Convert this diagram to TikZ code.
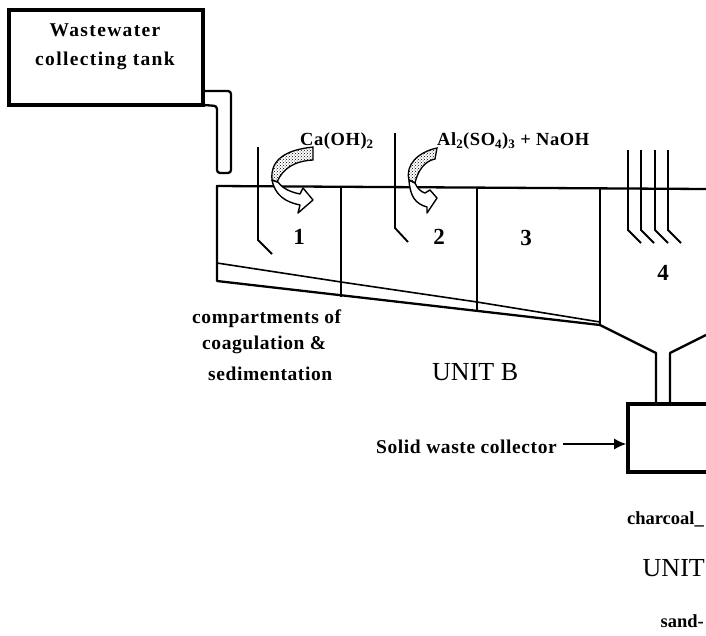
\documentclass[tikz,border=0pt]{standalone}
\usepackage{fontspec}
\setmainfont{Liberation Serif}
\usetikzlibrary{positioning,patterns,arrows.meta}
\tikzset{vessel/.style={draw=black,line width=3.6pt,inner sep=0pt}}
\tikzset{wall/.style={draw=black,line width=2.3pt,line join=round}}
\tikzset{thin wall/.style={draw=black,line width=1.6pt,line join=round}}
\tikzset{baffle/.style={draw=black,line width=1.9pt}}
\tikzset{tag/.style={font=\fontsize{19.5}{29}\selectfont\bfseries\addfontfeature{LetterSpace=3},inner sep=0pt}}
\tikzset{chem/.style={font=\fontsize{18.5}{22}\selectfont\bfseries\addfontfeature{LetterSpace=3},inner sep=0pt}}
\tikzset{edge tag/.style={font=\fontsize{18.5}{22}\selectfont\bfseries,inner sep=0pt}}
\tikzset{number/.style={font=\fontsize{23}{26}\selectfont\bfseries,inner sep=0pt}}
\tikzset{unit/.style={font=\fontsize{26}{30}\selectfont,inner sep=0pt}}
\tikzset{ribbon/.style={draw=black,line width=1.3pt,pattern=crosshatch dots,pattern color=black}}
\tikzset{swirl/.style={draw=black,line width=1.4pt,fill=white,line join=round}}

\begin{document}
\begin{tikzpicture}[x=1pt,y=-1pt]
\useasboundingbox (0,0) rectangle (706,635);
\clip (0,0) rectangle (706,635);

\node[vessel,minimum width=194pt,minimum height=95pt] (tank) at (106,57.5) {};
\node[tag,align=center] (tanklabel) at (105,47) {\addfontfeature{LetterSpace=7}Wastewater\\\addfontfeature{LetterSpace=7}collecting tank};

%Inlet pipe
\draw[wall,rounded corners=3pt] (204,91) -- (231,91) -- (231,173) -- (217,173) -- (217,106) -- (204,105);

%Basin
\draw[wall] (600,325) -- (217,281) -- (217,186) -- (706,189);
\draw[thin wall] (217,263) -- (341,282) -- (477,302) -- (600,322);
\draw[wall] (341,186) -- (341,297);
\draw[wall] (477,187) -- (477,310);
\draw[wall] (600,188) -- (600,325);
\draw[wall] (600,325) -- (656,353) -- (656,404);
\draw[wall] (706,335) -- (670,353) -- (670,404);

%Baffles
\draw[baffle] (258,147) -- (258,240) -- (272,254);
\draw[baffle] (395,133) -- (395,228) -- (408,242);
\foreach \x in {628,641,655,668}
  \draw[baffle] (\x,150) -- (\x,230) -- (\x+13,243);

%Dosing arrows
\draw[swirl] (272,180) .. controls (275,195) and (285,202) .. (300,205) -- (298,213) -- (313,200) -- (303,188) -- (300,194) .. controls (290,192) and (282,188) .. (278,182) -- cycle;
\draw[ribbon] (313,147) -- (313,160) .. controls (295,161) and (283,168) .. (277,182) -- (272,180) .. controls (270,160) and (285,150) .. (313,147) -- cycle;
\draw[swirl] (409,180) .. controls (410,197) and (416,204) .. (427,207) -- (427,213) -- (437,198) -- (430,190) -- (425,193) .. controls (421,192) and (417,188) .. (415,183) -- cycle;
\draw[ribbon] (437,148) -- (435,159) .. controls (425,161) and (418,170) .. (415,183) -- (409,180) .. controls (405,165) and (418,152) .. (437,148) -- cycle;

\node[chem,anchor=west] (lime) at (300,141) {Ca(OH)\textsubscript{2}};
\node[chem,anchor=west] (alum) at (437,141) {Al\textsubscript{2}(SO\textsubscript{4})\textsubscript{3} + NaOH};

\node[number] (one) at (299,237) {1};
\node[number] (two) at (439,237) {2};
\node[number] (three) at (526,238) {3};
\node[number] (four) at (663,273) {4};

\node[tag,anchor=west] (compartments) at (192,319) {compartments of};
\node[tag,anchor=west] (coagulation) at (202,345) {coagulation \&};
\node[tag,anchor=west] (sedimentation) at (208,374) {sedimentation};

\node[unit,anchor=west] (unitb) at (432,372) {UNIT B};

\node[vessel,minimum width=150pt,minimum height=68pt] (collector) at (703,438) {};
\node[tag,anchor=east] (solid) at (557,447) {Solid waste collector};
\coordinate (solidend) at (563,444);
\draw[black,line width=1.4pt,-{Latex[length=12pt,width=11pt]}] (solidend) -- (collector.west |- solidend);

\node[edge tag,anchor=east] (charcoal) at (704,519) {charcoal\_};
\node[unit,anchor=east] (unit) at (705,568) {UNIT};
\node[edge tag,anchor=east] (sand) at (704,621) {sand-};
\end{tikzpicture}
\end{document}
